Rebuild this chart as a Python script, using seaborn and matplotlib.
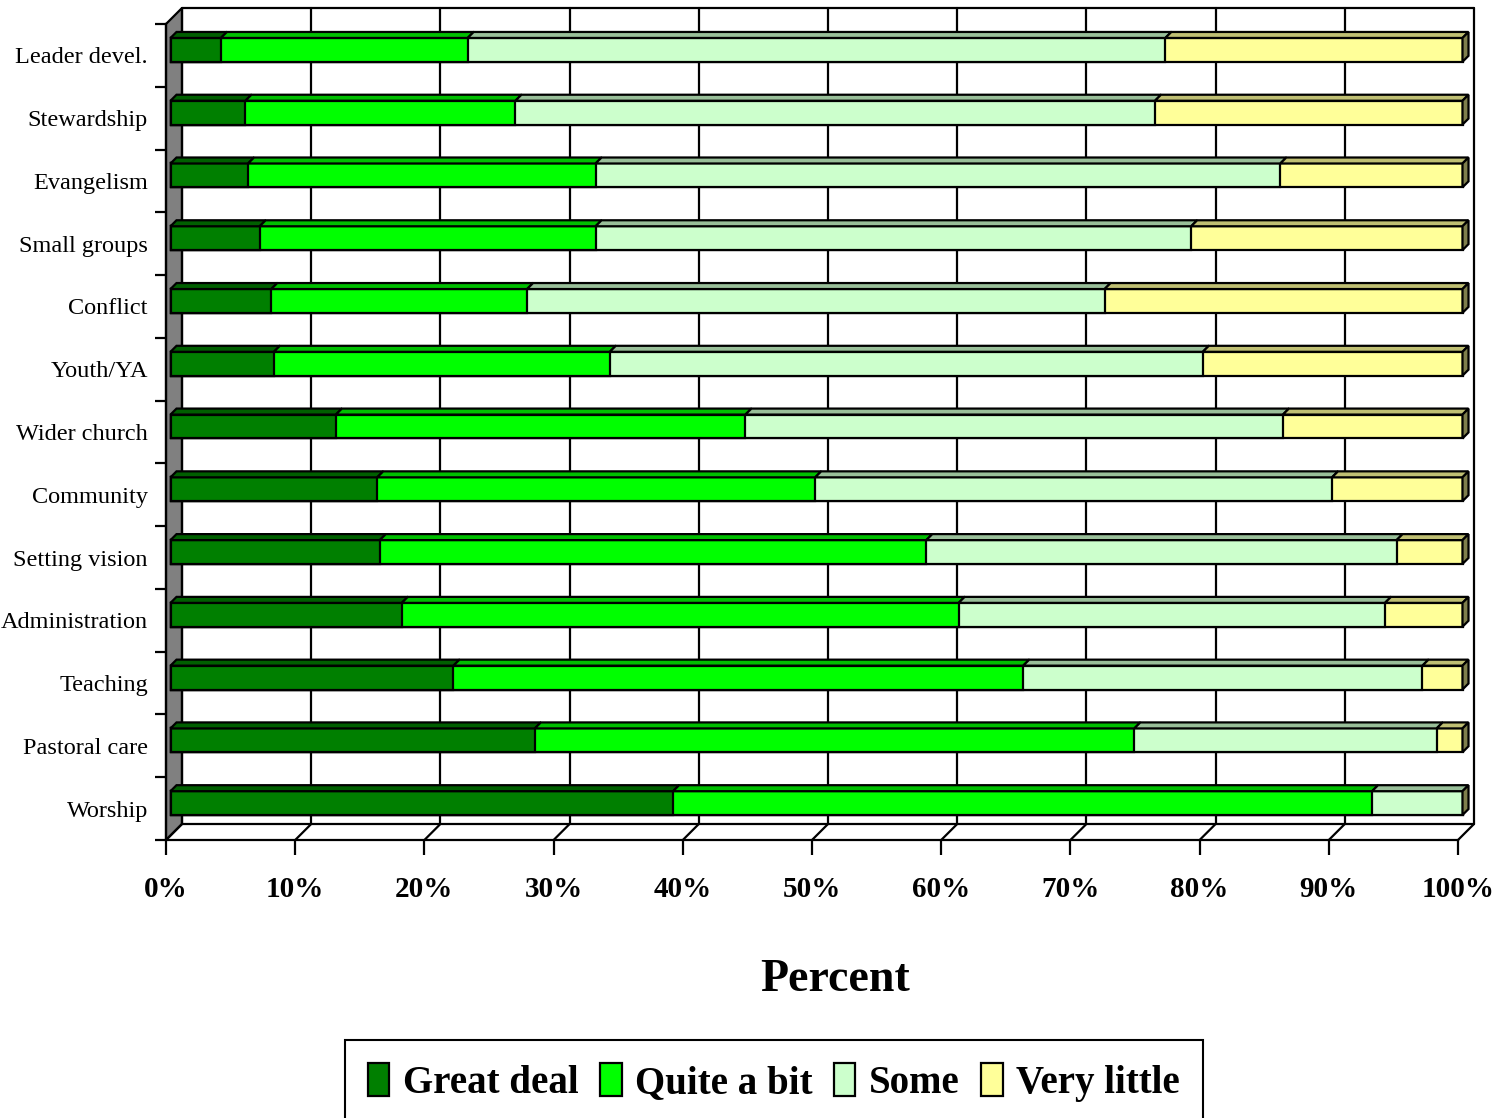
import numpy as np
import pandas as pd
import matplotlib
matplotlib.use("Agg")
import matplotlib.pyplot as plt
import matplotlib.transforms as mtransforms
from matplotlib.patches import Polygon, Patch
from matplotlib.lines import Line2D
import seaborn as sns

# Survey results: share of respondents per answer, by area
categories = ["Leader devel.", "Stewardship", "Evangelism", "Small groups", "Conflict",
              "Youth/YA", "Wider church", "Community", "Setting vision", "Administration",
              "Teaching", "Pastoral care", "Worship"]
great_deal = [3.9, 5.8, 6.0, 6.9, 7.8, 8.0, 12.8, 16.0, 16.2, 17.9, 21.9, 28.2, 38.9]
quite_a_bit = [19.1, 20.9, 26.9, 26.0, 19.8, 26.0, 31.7, 33.9, 42.3, 43.1, 44.1, 46.4, 54.1]
some = [54.0, 49.5, 53.0, 46.1, 44.7, 45.9, 41.6, 40.0, 36.4, 33.0, 30.9, 23.4, 7.0]
very_little = [23.0, 23.8, 14.1, 21.0, 27.7, 20.1, 13.9, 10.1, 5.1, 6.0, 3.1, 2.0, 0.0]

series_names = ["Great deal", "Quite a bit", "Some", "Very little"]
series_values = [great_deal, quite_a_bit, some, very_little]
xtick_values = list(range(0, 101, 10))
xtick_labels = [f"{v}%" for v in xtick_values]

front_colors = ["#007F00", "#00FF00", "#CCFFCC", "#FFFF99"]
top_colors = ["#005F00", "#00BF00", "#99BF99", "#BFBF73"]
side_color = "#7F7F4C"

sns.set_style("white")
plt.rcParams["font.family"] = ["Liberation Serif", "DejaVu Serif"]
plt.rcParams["text.color"] = "black"
plt.rcParams["axes.labelcolor"] = "black"
plt.rcParams["xtick.color"] = "black"
plt.rcParams["ytick.color"] = "black"

W, H = 1495, 1118
fig = plt.figure(figsize=(W / 100, H / 100), dpi=100)
ax_l, ax_r, ax_t, ax_b = 166, 1458, 24, 840
ax = fig.add_axes([ax_l / W, 1 - ax_b / H, (ax_r - ax_l) / W, (ax_b - ax_t) / H])

n = len(categories)
ppx = (ax_r - ax_l) / 100.0      # pixels per percent
ppy = (ax_b - ax_t) / n          # pixels per category band
DEPTH = 16                       # depth of the 3-D box, px
BAR_OFF = (4.5, 5.5)             # front face of bars sits slightly into the box
BAR_DEPTH = 6                    # thickness of the bar tops, px
bar_h = 0.38

def dx(px):
    return px / ppx

def dy(px):
    return px / ppy

ymin, ymax = -0.5, n - 0.5
lw = 1.6

# --- back wall, left wall and floor ---
wall = Polygon([(0, ymax), (0, ymin), (dx(DEPTH), ymin - dy(DEPTH)), (dx(DEPTH), ymax - dy(DEPTH))],
               closed=True, facecolor="#808080", edgecolor="black", lw=lw, clip_on=False, zorder=1)
ax.add_patch(wall)
for v in xtick_values:
    ax.add_line(Line2D([v + dx(DEPTH)] * 2, [ymax - dy(DEPTH), ymin - dy(DEPTH)],
                       color="black", lw=lw, clip_on=False, zorder=1))
    ax.add_line(Line2D([v, v + dx(DEPTH)], [ymax, ymax - dy(DEPTH)],
                       color="black", lw=lw, clip_on=False, zorder=1))
ax.add_line(Line2D([dx(DEPTH), 100 + dx(DEPTH)], [ymin - dy(DEPTH)] * 2,
                   color="black", lw=lw, clip_on=False, zorder=1))
ax.add_line(Line2D([dx(DEPTH), 100 + dx(DEPTH)], [ymax - dy(DEPTH)] * 2,
                   color="black", lw=lw, clip_on=False, zorder=1))

# --- front faces of the stacked bars (seaborn, drawn longest-first) ---
cum = np.cumsum(np.array(series_values), axis=0)
df = pd.DataFrame({"category": categories})
for i, name in enumerate(series_names):
    df[name] = cum[i]
bar_trans = mtransforms.offset_copy(ax.transData, fig=fig, x=BAR_OFF[0], y=BAR_OFF[1], units="dots")
for i in reversed(range(len(series_names))):
    sns.barplot(data=df, x=series_names[i], y="category", order=categories, orient="h",
                color=front_colors[i], saturation=1, width=bar_h, edgecolor="black",
                linewidth=lw, ax=ax, zorder=3)
for p in ax.patches:
    if isinstance(p, matplotlib.patches.Rectangle) and p is not wall:
        p.set_transform(bar_trans)
        p.set_clip_on(False)

# --- top faces and right end faces ---
lefts = np.vstack([np.zeros(n), cum[:-1]])
for j in range(n):
    yt = j - bar_h / 2
    yb = j + bar_h / 2
    for i in range(len(series_names)):
        l, r = lefts[i][j], cum[i][j]
        if r - l <= 0:
            continue
        top = Polygon([(l, yt), (r, yt), (r + dx(BAR_DEPTH), yt - dy(BAR_DEPTH)),
                       (l + dx(BAR_DEPTH), yt - dy(BAR_DEPTH))], closed=True,
                      facecolor=top_colors[i], edgecolor="black", lw=lw, transform=bar_trans,
                      clip_on=False, zorder=3, joinstyle="miter")
        ax.add_patch(top)
    end = cum[-1][j]
    side = Polygon([(end, yt), (end, yb), (end + dx(BAR_DEPTH), yb - dy(BAR_DEPTH)),
                    (end + dx(BAR_DEPTH), yt - dy(BAR_DEPTH))], closed=True,
                   facecolor=side_color, edgecolor="black", lw=lw, transform=bar_trans,
                   clip_on=False, zorder=3)
    ax.add_patch(side)

# --- axes, ticks and labels ---
ax.set_xlim(0, 100)
ax.set_ylim(ymax, ymin)
for s in ["top", "right"]:
    ax.spines[s].set_visible(False)
for s in ["left", "bottom"]:
    ax.spines[s].set_color("black")
    ax.spines[s].set_linewidth(lw)
    ax.spines[s].set_zorder(2)
ax.set_facecolor("none")

ax.set_xticks(xtick_values)
ax.set_xticklabels(xtick_labels, fontsize=21, fontweight="bold", color="black")
ax.tick_params(axis="x", which="major", direction="out", length=11, width=lw, color="black",
               pad=15, bottom=True)
ax.set_yticks(range(n))
ax.set_yticklabels(categories, fontsize=17.5, color="black")
ax.set_yticks(np.arange(ymin, ymax + 0.01, 1.0), minor=True)
ax.tick_params(axis="y", which="major", length=0, pad=13, left=True)
ax.tick_params(axis="y", which="minor", direction="out", length=8, width=lw, color="black", left=True)

ax.set_ylabel("")
ax.set_xlabel("Percent", fontsize=33, fontweight="bold", color="black")
ax.xaxis.set_label_coords((835 - ax_l) / (ax_r - ax_l), -(980 - ax_b) / (ax_b - ax_t))
ax.xaxis.label.set_va("center")

# --- legend ---
handles = [Patch(facecolor=c, edgecolor="black", linewidth=lw) for c in front_colors]
leg = fig.legend(handles, series_names, loc="upper center",
                 bbox_to_anchor=(774 / W, 1 - 1040 / H), ncol=4, frameon=True, fancybox=False,
                 prop={"family": "Liberation Serif", "weight": "bold", "size": 28},
                 handlelength=0.55, handleheight=0.9, handletextpad=0.35, columnspacing=0.55,
                 borderpad=0.6, borderaxespad=0)
leg.get_frame().set_edgecolor("black")
leg.get_frame().set_linewidth(1.5)
leg.get_frame().set_alpha(1)
for t in leg.get_texts():
    t.set_color("black")

fig.savefig("out.png", dpi=100, facecolor="white")
